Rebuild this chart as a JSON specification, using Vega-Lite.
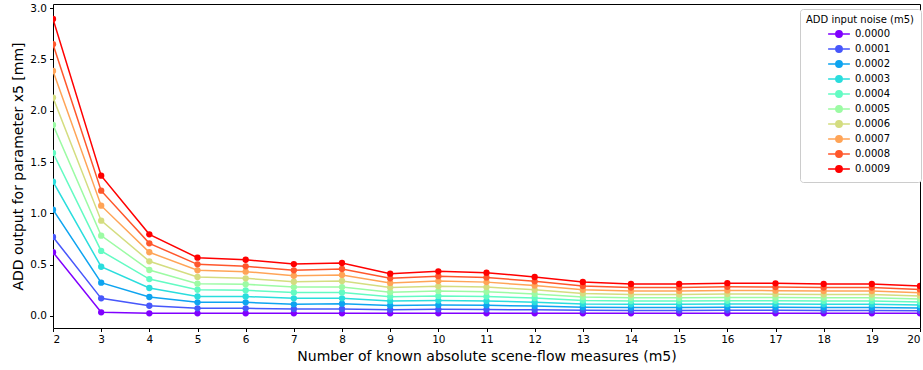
{
  "$schema": "https://vega.github.io/schema/vega-lite/v6.json",
  "width": 867,
  "height": 324,
  "autosize": {"type": "none"},
  "padding": {"left": 53, "top": 4, "right": 3, "bottom": 42},
  "config": {
    "font": "DejaVu Sans",
    "view": {"stroke": "#000", "strokeWidth": 1},
    "axis": {"grid": false, "domain": false, "tickColor": "#000", "tickSize": 3.5, "labelFontSize": 10.5, "labelColor": "#000", "titleFontSize": 14, "titleFontWeight": "normal", "titleColor": "#000", "labelPadding": 3}
  },
  "data": {"values": [
    {"m5":2,"noise":"0.0000","add":0.621},{"m5":2,"noise":"0.0001","add":0.770},{"m5":2,"noise":"0.0002","add":1.036},{"m5":2,"noise":"0.0003","add":1.309},{"m5":2,"noise":"0.0004","add":1.589},{"m5":2,"noise":"0.0005","add":1.862},{"m5":2,"noise":"0.0006","add":2.128},{"m5":2,"noise":"0.0007","add":2.388},{"m5":2,"noise":"0.0008","add":2.648},{"m5":2,"noise":"0.0009","add":2.895},
    {"m5":3,"noise":"0.0000","add":0.036},{"m5":3,"noise":"0.0001","add":0.172},{"m5":3,"noise":"0.0002","add":0.325},{"m5":3,"noise":"0.0003","add":0.480},{"m5":3,"noise":"0.0004","add":0.634},{"m5":3,"noise":"0.0005","add":0.783},{"m5":3,"noise":"0.0006","add":0.929},{"m5":3,"noise":"0.0007","add":1.075},{"m5":3,"noise":"0.0008","add":1.221},{"m5":3,"noise":"0.0009","add":1.367},
    {"m5":4,"noise":"0.0000","add":0.026},{"m5":4,"noise":"0.0001","add":0.100},{"m5":4,"noise":"0.0002","add":0.185},{"m5":4,"noise":"0.0003","add":0.273},{"m5":4,"noise":"0.0004","add":0.360},{"m5":4,"noise":"0.0005","add":0.448},{"m5":4,"noise":"0.0006","add":0.533},{"m5":4,"noise":"0.0007","add":0.621},{"m5":4,"noise":"0.0008","add":0.708},{"m5":4,"noise":"0.0009","add":0.796},
    {"m5":5,"noise":"0.0000","add":0.026},{"m5":5,"noise":"0.0001","add":0.075},{"m5":5,"noise":"0.0002","add":0.133},{"m5":5,"noise":"0.0003","add":0.190},{"m5":5,"noise":"0.0004","add":0.256},{"m5":5,"noise":"0.0005","add":0.315},{"m5":5,"noise":"0.0006","add":0.380},{"m5":5,"noise":"0.0007","add":0.445},{"m5":5,"noise":"0.0008","add":0.503},{"m5":5,"noise":"0.0009","add":0.568},
    {"m5":6,"noise":"0.0000","add":0.026},{"m5":6,"noise":"0.0001","add":0.075},{"m5":6,"noise":"0.0002","add":0.133},{"m5":6,"noise":"0.0003","add":0.190},{"m5":6,"noise":"0.0004","add":0.250},{"m5":6,"noise":"0.0005","add":0.309},{"m5":6,"noise":"0.0006","add":0.367},{"m5":6,"noise":"0.0007","add":0.432},{"m5":6,"noise":"0.0008","add":0.484},{"m5":6,"noise":"0.0009","add":0.548},
    {"m5":7,"noise":"0.0000","add":0.026},{"m5":7,"noise":"0.0001","add":0.068},{"m5":7,"noise":"0.0002","add":0.114},{"m5":7,"noise":"0.0003","add":0.172},{"m5":7,"noise":"0.0004","add":0.230},{"m5":7,"noise":"0.0005","add":0.282},{"m5":7,"noise":"0.0006","add":0.334},{"m5":7,"noise":"0.0007","add":0.392},{"m5":7,"noise":"0.0008","add":0.445},{"m5":7,"noise":"0.0009","add":0.506},
    {"m5":8,"noise":"0.0000","add":0.026},{"m5":8,"noise":"0.0001","add":0.068},{"m5":8,"noise":"0.0002","add":0.120},{"m5":8,"noise":"0.0003","add":0.172},{"m5":8,"noise":"0.0004","add":0.230},{"m5":8,"noise":"0.0005","add":0.282},{"m5":8,"noise":"0.0006","add":0.341},{"m5":8,"noise":"0.0007","add":0.400},{"m5":8,"noise":"0.0008","add":0.458},{"m5":8,"noise":"0.0009","add":0.516},
    {"m5":9,"noise":"0.0000","add":0.026},{"m5":9,"noise":"0.0001","add":0.062},{"m5":9,"noise":"0.0002","add":0.102},{"m5":9,"noise":"0.0003","add":0.145},{"m5":9,"noise":"0.0004","add":0.188},{"m5":9,"noise":"0.0005","add":0.232},{"m5":9,"noise":"0.0006","add":0.278},{"m5":9,"noise":"0.0007","add":0.322},{"m5":9,"noise":"0.0008","add":0.367},{"m5":9,"noise":"0.0009","add":0.412},
    {"m5":10,"noise":"0.0000","add":0.026},{"m5":10,"noise":"0.0001","add":0.065},{"m5":10,"noise":"0.0002","add":0.107},{"m5":10,"noise":"0.0003","add":0.150},{"m5":10,"noise":"0.0004","add":0.196},{"m5":10,"noise":"0.0005","add":0.243},{"m5":10,"noise":"0.0006","add":0.290},{"m5":10,"noise":"0.0007","add":0.340},{"m5":10,"noise":"0.0008","add":0.388},{"m5":10,"noise":"0.0009","add":0.435},
    {"m5":11,"noise":"0.0000","add":0.026},{"m5":11,"noise":"0.0001","add":0.063},{"m5":11,"noise":"0.0002","add":0.104},{"m5":11,"noise":"0.0003","add":0.147},{"m5":11,"noise":"0.0004","add":0.190},{"m5":11,"noise":"0.0005","add":0.236},{"m5":11,"noise":"0.0006","add":0.282},{"m5":11,"noise":"0.0007","add":0.330},{"m5":11,"noise":"0.0008","add":0.376},{"m5":11,"noise":"0.0009","add":0.422},
    {"m5":12,"noise":"0.0000","add":0.026},{"m5":12,"noise":"0.0001","add":0.060},{"m5":12,"noise":"0.0002","add":0.097},{"m5":12,"noise":"0.0003","add":0.135},{"m5":12,"noise":"0.0004","add":0.175},{"m5":12,"noise":"0.0005","add":0.215},{"m5":12,"noise":"0.0006","add":0.255},{"m5":12,"noise":"0.0007","add":0.296},{"m5":12,"noise":"0.0008","add":0.338},{"m5":12,"noise":"0.0009","add":0.380},
    {"m5":13,"noise":"0.0000","add":0.026},{"m5":13,"noise":"0.0001","add":0.055},{"m5":13,"noise":"0.0002","add":0.086},{"m5":13,"noise":"0.0003","add":0.118},{"m5":13,"noise":"0.0004","add":0.150},{"m5":13,"noise":"0.0005","add":0.184},{"m5":13,"noise":"0.0006","add":0.218},{"m5":13,"noise":"0.0007","add":0.255},{"m5":13,"noise":"0.0008","add":0.292},{"m5":13,"noise":"0.0009","add":0.331},
    {"m5":14,"noise":"0.0000","add":0.026},{"m5":14,"noise":"0.0001","add":0.054},{"m5":14,"noise":"0.0002","add":0.083},{"m5":14,"noise":"0.0003","add":0.114},{"m5":14,"noise":"0.0004","add":0.145},{"m5":14,"noise":"0.0005","add":0.177},{"m5":14,"noise":"0.0006","add":0.209},{"m5":14,"noise":"0.0007","add":0.243},{"m5":14,"noise":"0.0008","add":0.277},{"m5":14,"noise":"0.0009","add":0.312},
    {"m5":15,"noise":"0.0000","add":0.026},{"m5":15,"noise":"0.0001","add":0.054},{"m5":15,"noise":"0.0002","add":0.083},{"m5":15,"noise":"0.0003","add":0.114},{"m5":15,"noise":"0.0004","add":0.145},{"m5":15,"noise":"0.0005","add":0.177},{"m5":15,"noise":"0.0006","add":0.209},{"m5":15,"noise":"0.0007","add":0.243},{"m5":15,"noise":"0.0008","add":0.277},{"m5":15,"noise":"0.0009","add":0.312},
    {"m5":16,"noise":"0.0000","add":0.026},{"m5":16,"noise":"0.0001","add":0.055},{"m5":16,"noise":"0.0002","add":0.085},{"m5":16,"noise":"0.0003","add":0.116},{"m5":16,"noise":"0.0004","add":0.148},{"m5":16,"noise":"0.0005","add":0.181},{"m5":16,"noise":"0.0006","add":0.214},{"m5":16,"noise":"0.0007","add":0.249},{"m5":16,"noise":"0.0008","add":0.284},{"m5":16,"noise":"0.0009","add":0.320},
    {"m5":17,"noise":"0.0000","add":0.026},{"m5":17,"noise":"0.0001","add":0.055},{"m5":17,"noise":"0.0002","add":0.085},{"m5":17,"noise":"0.0003","add":0.116},{"m5":17,"noise":"0.0004","add":0.148},{"m5":17,"noise":"0.0005","add":0.180},{"m5":17,"noise":"0.0006","add":0.213},{"m5":17,"noise":"0.0007","add":0.247},{"m5":17,"noise":"0.0008","add":0.282},{"m5":17,"noise":"0.0009","add":0.318},
    {"m5":18,"noise":"0.0000","add":0.026},{"m5":18,"noise":"0.0001","add":0.054},{"m5":18,"noise":"0.0002","add":0.083},{"m5":18,"noise":"0.0003","add":0.114},{"m5":18,"noise":"0.0004","add":0.145},{"m5":18,"noise":"0.0005","add":0.177},{"m5":18,"noise":"0.0006","add":0.209},{"m5":18,"noise":"0.0007","add":0.243},{"m5":18,"noise":"0.0008","add":0.277},{"m5":18,"noise":"0.0009","add":0.312},
    {"m5":19,"noise":"0.0000","add":0.026},{"m5":19,"noise":"0.0001","add":0.054},{"m5":19,"noise":"0.0002","add":0.083},{"m5":19,"noise":"0.0003","add":0.114},{"m5":19,"noise":"0.0004","add":0.145},{"m5":19,"noise":"0.0005","add":0.177},{"m5":19,"noise":"0.0006","add":0.209},{"m5":19,"noise":"0.0007","add":0.243},{"m5":19,"noise":"0.0008","add":0.277},{"m5":19,"noise":"0.0009","add":0.312},
    {"m5":20,"noise":"0.0000","add":0.026},{"m5":20,"noise":"0.0001","add":0.052},{"m5":20,"noise":"0.0002","add":0.079},{"m5":20,"noise":"0.0003","add":0.107},{"m5":20,"noise":"0.0004","add":0.136},{"m5":20,"noise":"0.0005","add":0.165},{"m5":20,"noise":"0.0006","add":0.195},{"m5":20,"noise":"0.0007","add":0.227},{"m5":20,"noise":"0.0008","add":0.259},{"m5":20,"noise":"0.0009","add":0.292}
  ]},
  "mark": {"type": "line", "strokeWidth": 1.5, "clip": true, "point": {"filled": true, "size": 40, "opacity": 1}},
  "encoding": {
    "x": {"field": "m5", "type": "quantitative", "scale": {"domain": [2, 20], "nice": false, "zero": false},
      "axis": {"values": [2,3,4,5,6,7,8,9,10,11,12,13,14,15,16,17,18,19,20], "title": "Number of known absolute scene-flow measures (m5)", "titlePadding": 4}},
    "y": {"field": "add", "type": "quantitative", "scale": {"domain": [-0.117, 3.04], "nice": false, "zero": false},
      "axis": {"values": [0, 0.5, 1.0, 1.5, 2.0, 2.5, 3.0], "format": ".1f", "title": "ADD output for parameter x5 [mm]", "titlePadding": 4}},
    "color": {"field": "noise", "type": "nominal",
      "scale": {"domain": ["0.0000","0.0001","0.0002","0.0003","0.0004","0.0005","0.0006","0.0007","0.0008","0.0009"],
        "range": ["#8000ff","#4757fb","#0ea4f0","#2adddd","#63fbc3","#9cfba4","#d4dd80","#ffa457","#ff572c","#ff0000"]},
      "legend": {"title": "ADD input noise (m5)", "orient": "none", "legendX": 747, "legendY": 5,
        "titleFontSize": 10, "titleFontWeight": "normal", "titleColor": "#000", "titleAnchor": "middle", "titlePadding": 1,
        "labelFontSize": 10, "labelColor": "#000", "labelOffset": 8,
        "symbolType": "M-1.6,0H1.6M-0.47,0A0.47,0.47 0 1,1 0.47,0A0.47,0.47 0 1,1 -0.47,0Z",
        "symbolSize": 185, "symbolStrokeWidth": 1.5, "rowPadding": 0,
        "padding": 6, "fillColor": "#fff", "strokeColor": "#ccc", "cornerRadius": 3,
        "encode": {"symbols": {"update": {"fill": {"scale": "color", "field": "value"}, "opacity": {"value": 1}}}}}
    }
  }
}
